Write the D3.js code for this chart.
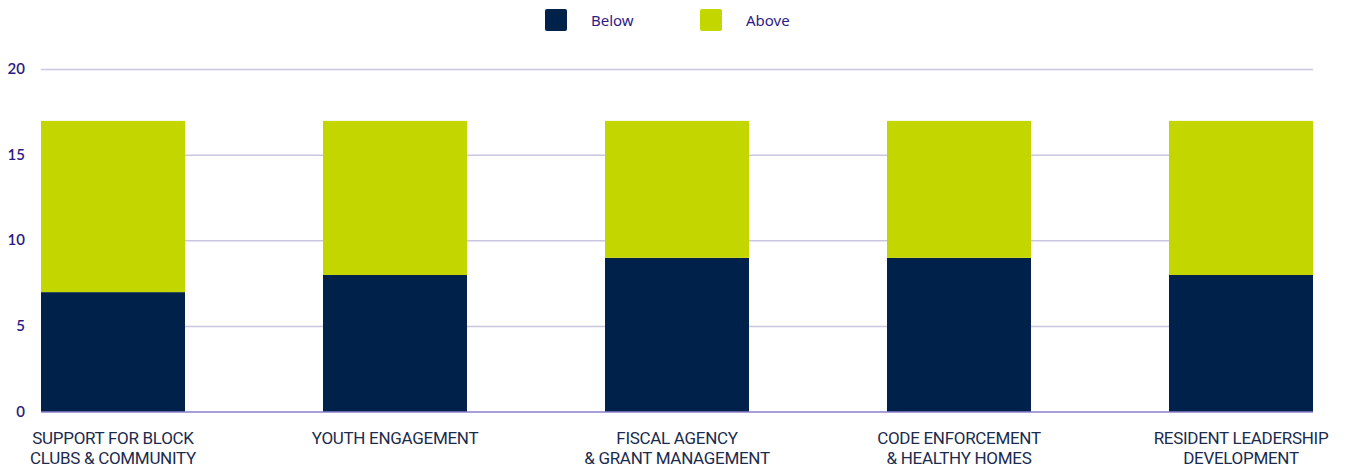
<!DOCTYPE html>
<html>
<head>
<meta charset="utf-8">
<script src="https://cdn.jsdelivr.net/npm/d3@7"></script>
<style>
  html, body { margin: 0; padding: 0; background: #ffffff; }
  svg { display: block; }
</style>
</head>
<body>
<svg id="chart" width="1353" height="467"></svg>
<script>
// Program areas and the count of sites below / above the benchmark
const categories = [
  ["SUPPORT FOR BLOCK", "CLUBS & COMMUNITY"],
  ["YOUTH ENGAGEMENT"],
  ["FISCAL AGENCY", "& GRANT MANAGEMENT"],
  ["CODE ENFORCEMENT", "& HEALTHY HOMES"],
  ["RESIDENT LEADERSHIP", "DEVELOPMENT"]
];
const below = [7, 8, 9, 9, 8];
const above = [10, 9, 8, 8, 9];
const seriesNames = ["Below", "Above"];
const yTicks = [0, 5, 10, 15, 20];

const colors = { Below: "#00214a", Above: "#c4d600" };

const svg = d3.select("#chart");
const margin = { left: 41, right: 40, top: 69.5, bottom: 55 };
const W = 1353, H = 467;

const x = d3.scaleBand()
  .domain(d3.range(categories.length))
  .range([margin.left, W - margin.right])
  .paddingInner(0.4894)
  .paddingOuter(0);

const y = d3.scaleLinear()
  .domain([0, 20])
  .range([H - margin.bottom, margin.top]);

// gridlines
svg.append("g")
  .selectAll("line")
  .data(yTicks.filter(t => t > 0))
  .join("line")
  .attr("x1", margin.left)
  .attr("x2", W - margin.right)
  .attr("y1", d => y(d))
  .attr("y2", d => y(d))
  .attr("stroke", "#cbc6df")
  .attr("stroke-width", 1.5);

// y tick labels
svg.append("g")
  .selectAll("text")
  .data(yTicks)
  .join("text")
  .attr("x", 25)
  .attr("y", d => y(d))
  .attr("dy", "0.3em")
  .attr("text-anchor", "end")
  .attr("font-family", "Lato, 'Noto Sans', sans-serif")
  .attr("font-size", 15)
  .attr("font-weight", 600)
  .attr("fill", "#2b1a7f")
  .text(d => d);

// stacked bars
const rows = categories.map((c, i) => ({ i, Below: below[i], Above: above[i] }));
const stacked = d3.stack().keys(seriesNames)(rows);

svg.append("g")
  .selectAll("g")
  .data(stacked)
  .join("g")
  .attr("fill", d => colors[d.key])
  .selectAll("rect")
  .data(d => d)
  .join("rect")
  .attr("x", d => x(d.data.i))
  .attr("width", x.bandwidth())
  .attr("y", d => y(d[1]))
  .attr("height", d => y(d[0]) - y(d[1]));

// baseline
svg.append("line")
  .attr("x1", margin.left)
  .attr("x2", W - margin.right)
  .attr("y1", y(0))
  .attr("y2", y(0))
  .attr("stroke", "#8b7fcb")
  .attr("stroke-width", 1.5);

// category labels
const lab = svg.append("g")
  .selectAll("text")
  .data(categories)
  .join("text")
  .attr("x", (d, i) => x(i) + x.bandwidth() / 2)
  .attr("y", 444)
  .attr("text-anchor", "middle")
  .attr("font-family", "Roboto, 'Noto Sans', sans-serif")
  .attr("font-size", 17)
  .attr("font-weight", 400)
  .attr("letter-spacing", "-0.3")
  .attr("fill", "#1b2b4e");
lab.selectAll("tspan")
  .data(d => d)
  .join("tspan")
  .attr("x", function () { return d3.select(this.parentNode).attr("x"); })
  .attr("dy", (d, j) => j === 0 ? 0 : 20)
  .text(d => d);

// legend
const legendX = [545, 700];
const legend = svg.append("g")
  .selectAll("g")
  .data(seriesNames)
  .join("g")
  .attr("transform", (d, i) => `translate(${legendX[i]},9)`);
legend.append("rect")
  .attr("width", 22)
  .attr("height", 22)
  .attr("rx", 2)
  .attr("fill", d => colors[d]);
legend.append("text")
  .attr("x", 46)
  .attr("y", 17)
  .attr("font-family", "'Noto Sans', Lato, sans-serif")
  .attr("font-size", 15)
  .attr("font-weight", 400)
  .attr("fill", "#2e1a87")
  .text(d => d);
</script>
</body>
</html>
